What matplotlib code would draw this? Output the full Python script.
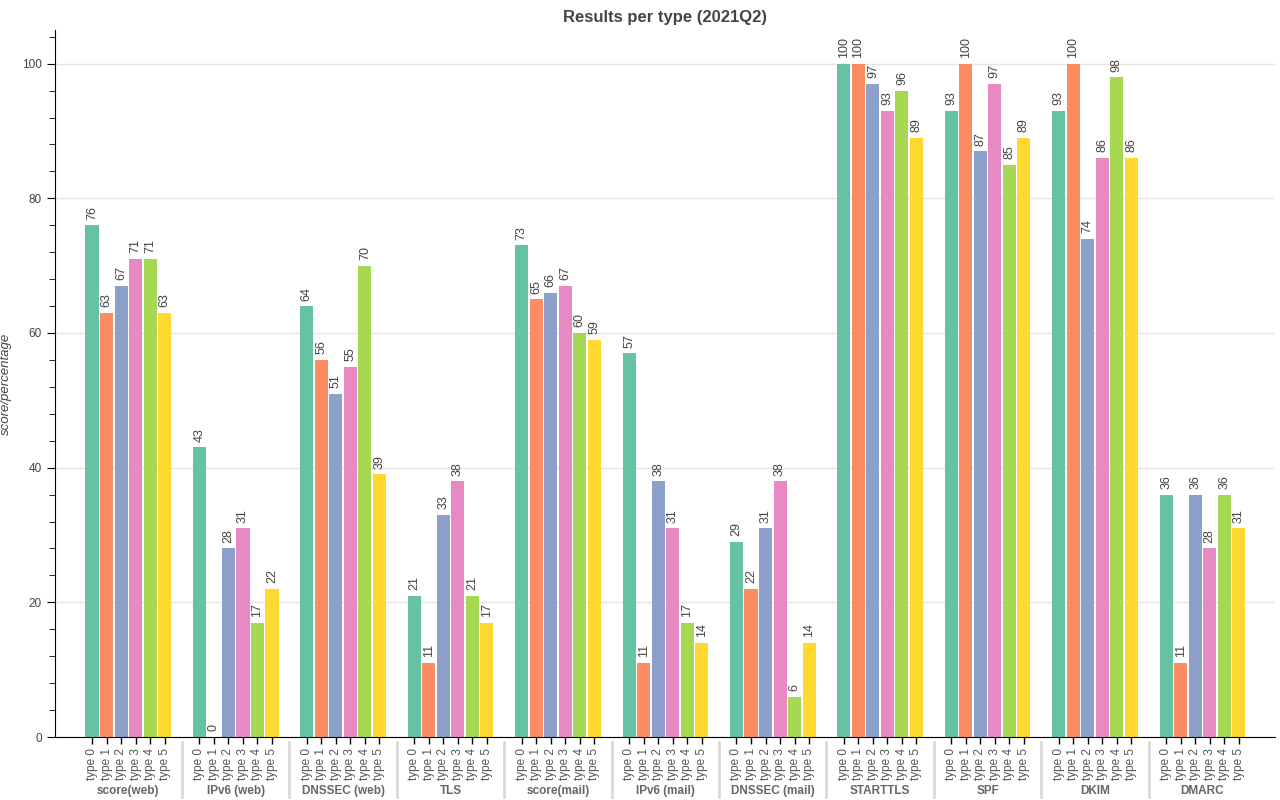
import numpy as np
import matplotlib.pyplot as plt
from matplotlib.ticker import MultipleLocator

plt.rcParams['font.family'] = ['Liberation Sans', 'DejaVu Sans']

groups = ["score(web)", "IPv6 (web)", "DNSSEC (web)", "TLS", "score(mail)", "IPv6 (mail)",
          "DNSSEC (mail)", "STARTTLS", "SPF", "DKIM", "DMARC"]
types = ["type 0", "type 1", "type 2", "type 3", "type 4", "type 5"]

type0 = [76, 43, 64, 21, 73, 57, 29, 100, 93, 93, 36]
type1 = [63, 0, 56, 11, 65, 11, 22, 100, 100, 100, 11]
type2 = [67, 28, 51, 33, 66, 38, 31, 97, 87, 74, 36]
type3 = [71, 31, 55, 38, 67, 31, 38, 93, 97, 86, 28]
type4 = [71, 17, 70, 21, 60, 17, 6, 96, 85, 98, 36]
type5 = [63, 22, 39, 17, 59, 14, 14, 89, 89, 86, 31]
series = [type0, type1, type2, type3, type4, type5]

colors = ["#66c2a5", "#fc8d62", "#8da0cb", "#e78ac3", "#a6d854", "#ffd92f"]

fig = plt.figure(figsize=(12.8, 8), dpi=100)
ax = fig.add_axes([55/1280, 63/800, 1220/1280, 707/800])

pad = 1.4
step = len(types) + pad
ticks, ticklabels = [], []
for t, vals in enumerate(series):
    xs = np.arange(len(groups)) * step + t + 0.5
    ax.bar(xs, vals, width=0.9, color=colors[t], zorder=2)
    for x, v in zip(xs, vals):
        ax.annotate(str(v), (x, v), xytext=(0, 4), textcoords="offset points",
                    rotation=90, ha="center", va="bottom", fontsize=9, color="#444444")
    ticks += list(xs)
    ticklabels += [types[t]] * len(groups)

ax.set_xticks(ticks)
ax.set_xticklabels(ticklabels, rotation=90, fontsize=8.5, color="#555555", va="top")
ax.tick_params(axis="x", length=5, width=1, pad=3)

trans = ax.get_xaxis_transform()
for g, name in enumerate(groups):
    cx = g * step + 3
    ax.text(cx, -0.077, name, transform=trans, ha="center", va="center",
            fontsize=8.5, fontweight="bold", color="#666666")
    if g > 0:
        sx = g * step - pad / 2
        ax.plot([sx, sx], [-0.007, -0.085], transform=trans, color="#d8d8d8",
                lw=2, clip_on=False)

ax.set_xlim(-2.05, 82.0)
ax.set_ylim(0, 105)
ax.yaxis.set_major_locator(MultipleLocator(20))
ax.yaxis.set_minor_locator(MultipleLocator(4))
ax.tick_params(axis="y", which="major", length=6, labelsize=8.5, labelcolor="#444444")
ax.tick_params(axis="y", which="minor", length=4)
ax.grid(axis="y", color="#e5e5e5", lw=1, zorder=0)
ax.set_axisbelow(True)
for s in ["top", "right"]:
    ax.spines[s].set_visible(False)

ax.set_ylabel("score/percentage", fontsize=9.5, style="italic", color="#444444")
ax.yaxis.set_label_coords(-0.035, 0.5)
ax.set_title("Results per type (2021Q2)", fontsize=12, fontweight="bold", color="#444444", pad=6)

fig.savefig("out.png", dpi=100)
